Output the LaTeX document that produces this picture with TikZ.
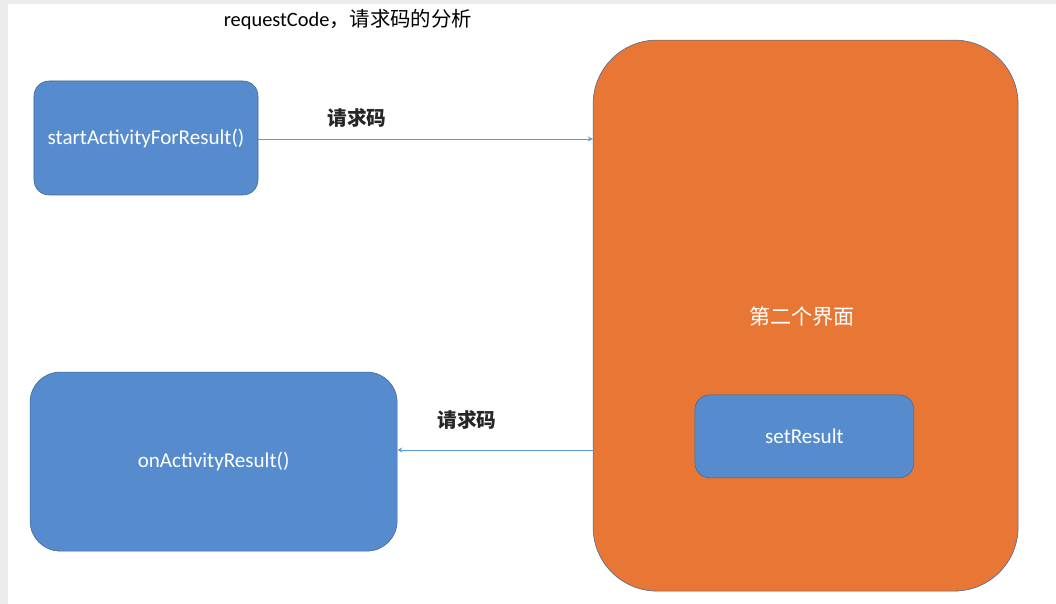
\documentclass[tikz,border=0pt]{standalone}
\usepackage{fontspec}
\setmainfont{Carlito}
\newfontfamily\cjk{Noto Sans CJK SC}
\usetikzlibrary{arrows}
\definecolor{boxblue}{RGB}{86,140,205}
\definecolor{boxedge}{RGB}{65,105,150}
\definecolor{pageorange}{RGB}{232,118,52}
\definecolor{lineblue}{RGB}{91,155,213}
\tikzstyle{callbox} = [draw=boxedge,fill=boxblue,text=white,font=\fontsize{15}{18}\selectfont]
\tikzstyle{flow} = [draw=lineblue,semithick,->,>=stealth]
\tikzstyle{codelabel} = [font=\fontsize{14}{17}\selectfont\cjk\bfseries,text=black!85]

\begin{document}
\begin{tikzpicture}

\useasboundingbox (0,0) rectangle (26.4,15.1);
\fill[black!8] (0,0) rectangle (26.4,15.1);
\fill[white] (0.2,0) rectangle (26.4,15.0);

\node (title) at (8.7,14.6) {\fontsize{14.5}{17}\selectfont requestCode{\cjk ，请求码的分析}};

\node[callbox,rounded corners=0.375cm,minimum width=5.6cm,minimum height=2.85cm] (startbox) at (3.65,11.65) {startActivityForResult()};
\node[callbox,rounded corners=0.75cm,minimum width=9.175cm,minimum height=4.475cm] (resultbox) at (5.34,3.56) {onActivityResult()};
\node[draw=boxedge,fill=pageorange,rounded corners=1.6cm,minimum width=10.625cm,minimum height=13.775cm] (secondpage) at (20.14,7.21) {};
\node[text=white,font=\fontsize{15}{18}\selectfont\cjk] (pagename) at (20.05,7.175) {第二个界面};
\node[callbox,rounded corners=0.375cm,minimum width=5.475cm,minimum height=2.075cm] (setbox) at (20.11,4.19) {setResult};

\coordinate (sendpt) at (10,11.625);
\coordinate (retpt) at (10,3.85);
\draw[flow] (sendpt -| startbox.east) -- (sendpt -| secondpage.west);
\draw[flow] (retpt -| secondpage.west) -- (retpt -| resultbox.east);

\node[codelabel] (sendlabel) at (8.925,12.15) {请求码};
\node[codelabel] (retlabel) at (11.675,4.6) {请求码};

\end{tikzpicture}
\end{document}
